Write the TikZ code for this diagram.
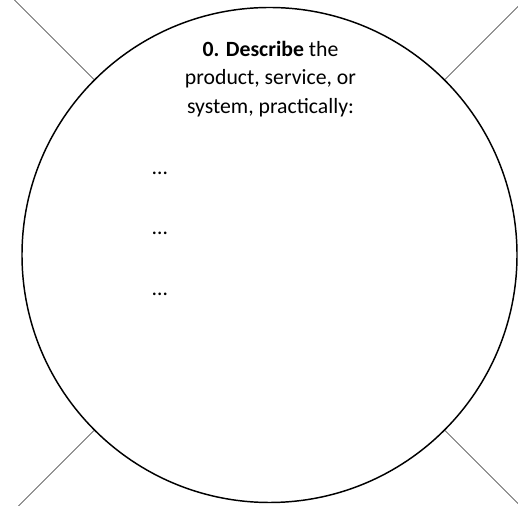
\documentclass[tikz,border=0pt]{standalone}
\usepackage{fontspec}
\setmainfont{Carlito}
\usepackage{tikz}
\usetikzlibrary{calc}
\tikzset{
  rim/.style={circle,draw,line width=1.1pt,minimum size=371.25pt,inner sep=0pt},
  spoke/.style={line width=0.5pt,black!85},
  lbl/.style={align=center,inner sep=0pt,font=\fontsize{16.3}{21.4}\selectfont},
  dots/.style={inner sep=0pt,font=\fontsize{16.3}{18}\selectfont}
}

\begin{document}
\begin{tikzpicture}[x=0.75pt,y=0.75pt]
\useasboundingbox (0,0) rectangle (518,506);
\clip (0,0) rectangle (518,506);
\node[rim] (sys) at (269.5,251) {};
\foreach \a/\n in {45/ne,135/nw,225/sw,315/se}{
  \coordinate (\n) at ($(sys.center)+(\a:420)$);
  \draw[spoke] (sys.\a) -- (\n);
}
\node[lbl,anchor=north] (ask) at (270.5,465.5) {\textbf{0. Describe} the\\product, service, or\\system, practically:};
\foreach \y/\n in {331/d1,271/d2,210/d3}
  \node[dots,anchor=base west] (\n) at (152,\y) {…};
\end{tikzpicture}
\end{document}
